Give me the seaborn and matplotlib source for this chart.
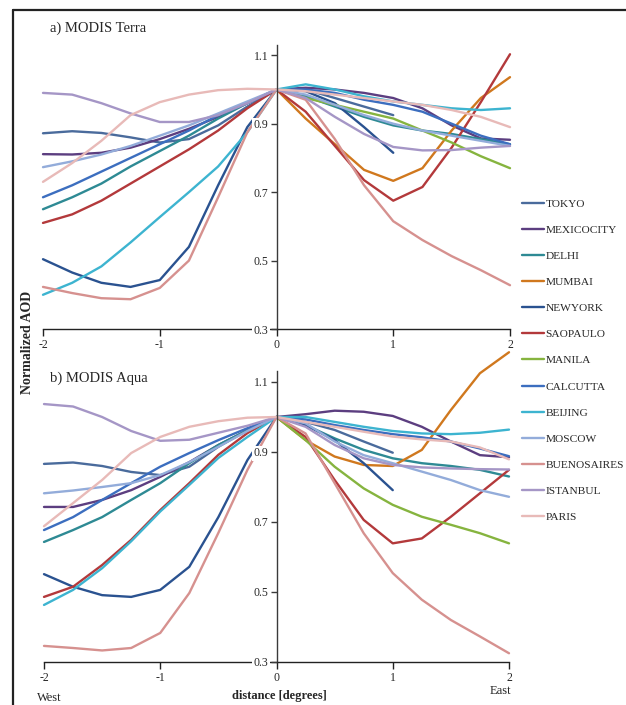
import numpy as np
import pandas as pd
import matplotlib
matplotlib.use("Agg")
import matplotlib.pyplot as plt
from matplotlib.lines import Line2D
import seaborn as sns

nan = np.nan
distance = [-2, -1.75, -1.5, -1.25, -1, -0.75, -0.5, -0.25, 0,
            0.25, 0.5, 0.75, 1, 1.25, 1.5, 1.75, 2]

cities = ["TOKYO", "MEXICOCITY", "DELHI", "MUMBAI", "NEWYORK", "SAOPAULO",
          "MANILA", "CALCUTTA", "BEIJING", "MOSCOW", "BUENOSAIRES",
          "ISTANBUL", "PARIS"]
colors = ["#4A6B9C", "#5C3E80", "#2E8A94", "#D0781E", "#2A5290", "#B3393B",
          "#86B43F", "#3C6EBF", "#3DB4D0", "#93ACDA", "#D6918F",
          "#A596C6", "#E8BAB8"]

# a) MODIS Terra
tokyo_a = [0.872, 0.878, 0.873, 0.86, 0.845, 0.855, 0.895, 0.95, 1.0, 1.0, 0.975, 0.95, 0.925, nan, nan, nan, nan]
mexico_a = [0.811, 0.81, 0.815, 0.83, 0.855, 0.885, 0.92, 0.96, 1.0, 1.005, 1.0, 0.99, 0.975, 0.945, 0.895, 0.857, 0.853]
delhi_a = [0.65, 0.685, 0.725, 0.775, 0.82, 0.865, 0.915, 0.96, 1.0, 0.98, 0.95, 0.92, 0.895, 0.88, 0.87, 0.855, 0.84]
mumbai_a = [nan, nan, nan, nan, nan, nan, nan, nan, 1.0, 0.915, 0.84, 0.765, 0.733, 0.77, 0.88, 0.975, 1.036]
newyork_a = [0.504, 0.465, 0.435, 0.423, 0.443, 0.54, 0.72, 0.89, 1.0, 0.995, 0.96, 0.89, 0.815, nan, nan, nan, nan]
saopaulo_a = [0.61, 0.635, 0.675, 0.725, 0.775, 0.825, 0.88, 0.945, 1.0, 0.935, 0.835, 0.735, 0.675, 0.715, 0.83, 0.963, 1.103]
manila_a = [nan, nan, nan, nan, nan, nan, nan, nan, 1.0, 0.975, 0.955, 0.935, 0.915, 0.88, 0.845, 0.805, 0.77]
calcutta_a = [0.685, 0.72, 0.76, 0.8, 0.84, 0.88, 0.925, 0.96, 1.0, 1.0, 0.99, 0.97, 0.955, 0.935, 0.9, 0.865, 0.84]
beijing_a = [0.40, 0.435, 0.483, 0.553, 0.627, 0.70, 0.775, 0.875, 1.0, 1.015, 1.0, 0.98, 0.965, 0.955, 0.945, 0.94, 0.945]
moscow_a = [0.773, 0.79, 0.81, 0.835, 0.865, 0.895, 0.93, 0.965, 1.0, 0.985, 0.955, 0.925, 0.9, 0.88, 0.865, 0.85, 0.835]
buenos_a = [0.423, 0.405, 0.39, 0.387, 0.42, 0.50, 0.685, 0.875, 1.0, 0.97, 0.855, 0.72, 0.615, 0.56, 0.513, 0.472, 0.428]
istanbul_a = [0.99, 0.985, 0.96, 0.93, 0.905, 0.905, 0.925, 0.96, 1.0, 0.975, 0.92, 0.87, 0.832, 0.822, 0.823, 0.83, 0.835]
paris_a = [0.73, 0.785, 0.85, 0.925, 0.963, 0.985, 0.998, 1.002, 1.0, 0.995, 0.985, 0.975, 0.965, 0.955, 0.94, 0.92, 0.89]

# b) MODIS Aqua
tokyo_b = [0.866, 0.87, 0.86, 0.843, 0.834, 0.858, 0.915, 0.962, 1.0, 0.986, 0.963, 0.93, 0.898, nan, nan, nan, nan]
mexico_b = [0.743, 0.743, 0.763, 0.791, 0.829, 0.871, 0.92, 0.962, 1.0, 1.008, 1.018, 1.015, 1.003, 0.972, 0.93, 0.891, 0.885]
delhi_b = [0.643, 0.677, 0.714, 0.763, 0.811, 0.868, 0.92, 0.962, 1.0, 0.977, 0.939, 0.906, 0.882, 0.868, 0.86, 0.849, 0.83]
mumbai_b = [nan, nan, nan, nan, nan, nan, nan, nan, 1.0, 0.934, 0.887, 0.863, 0.86, 0.906, 1.02, 1.125, 1.185]
newyork_b = [0.551, 0.515, 0.491, 0.486, 0.506, 0.572, 0.714, 0.877, 1.0, 0.977, 0.934, 0.868, 0.791, nan, nan, nan, nan]
saopaulo_b = [0.486, 0.515, 0.577, 0.649, 0.734, 0.811, 0.892, 0.954, 1.0, 0.943, 0.82, 0.706, 0.639, 0.653, 0.715, 0.782, 0.849]
manila_b = [nan, nan, nan, nan, nan, nan, nan, nan, 1.0, 0.934, 0.858, 0.796, 0.749, 0.715, 0.692, 0.668, 0.639]
calcutta_b = [0.677, 0.714, 0.763, 0.811, 0.858, 0.897, 0.934, 0.968, 1.0, 0.993, 0.977, 0.963, 0.951, 0.942, 0.93, 0.91, 0.888]
beijing_b = [0.463, 0.506, 0.568, 0.645, 0.73, 0.806, 0.883, 0.943, 1.0, 1.0, 0.986, 0.972, 0.96, 0.953, 0.951, 0.955, 0.964]
moscow_b = [0.782, 0.79, 0.80, 0.811, 0.834, 0.871, 0.915, 0.96, 1.0, 0.982, 0.93, 0.891, 0.868, 0.844, 0.82, 0.791, 0.772]
buenos_b = [0.346, 0.34, 0.333, 0.34, 0.383, 0.497, 0.669, 0.849, 1.0, 0.953, 0.811, 0.668, 0.554, 0.478, 0.42, 0.373, 0.325]
istanbul_b = [1.037, 1.03, 1.0, 0.96, 0.932, 0.935, 0.955, 0.975, 1.0, 0.972, 0.92, 0.882, 0.863, 0.856, 0.853, 0.851, 0.85]
paris_b = [0.688, 0.754, 0.82, 0.897, 0.943, 0.972, 0.988, 0.998, 1.0, 0.986, 0.972, 0.958, 0.944, 0.936, 0.93, 0.913, 0.879]

terra = [tokyo_a, mexico_a, delhi_a, mumbai_a, newyork_a, saopaulo_a, manila_a,
         calcutta_a, beijing_a, moscow_a, buenos_a, istanbul_a, paris_a]
aqua = [tokyo_b, mexico_b, delhi_b, mumbai_b, newyork_b, saopaulo_b, manila_b,
        calcutta_b, beijing_b, moscow_b, buenos_b, istanbul_b, paris_b]

yticks = [0.3, 0.5, 0.7, 0.9, 1.1]
xticks = [-2, -1, 0, 1, 2]


def long_df(series):
    rows = []
    for city, vals in zip(cities, series):
        for d, v in zip(distance, vals):
            rows.append((city, d, v))
    return pd.DataFrame(rows, columns=["city", "distance", "aod"])


sns.set_style("white")
plt.rcParams["font.family"] = ["Liberation Serif", "DejaVu Serif"]
plt.rcParams["axes.linewidth"] = 1.0

fig = plt.figure(figsize=(6.26, 7.05), dpi=100)
W, H = 626, 705


def px_axes(x0, x1, ytop, ybot):
    return fig.add_axes([x0 / W, 1 - ybot / H, (x1 - x0) / W, (ybot - ytop) / H])


ax_a = px_axes(43, 510, 45, 329)
ax_b = px_axes(44, 509, 371.5, 662)

palette = dict(zip(cities, colors))
for ax, series in [(ax_a, terra), (ax_b, aqua)]:
    df = long_df(series)
    sns.lineplot(data=df, x="distance", y="aod", hue="city", hue_order=cities,
                 palette=palette, estimator=None, sort=True, linewidth=1.7,
                 legend=False, ax=ax)
    for ln in ax.get_lines():
        ln.set_clip_on(False)
        ln.set_solid_capstyle("round")
        ln.set_solid_joinstyle("round")
    ax.set_xlim(-2, 2)
    ax.set_ylim(0.3, 1.13)
    ax.set_xlabel("")
    ax.set_ylabel("")
    for s in ["top", "right"]:
        ax.spines[s].set_visible(False)
    ax.spines["left"].set_position(("data", 0))
    ax.spines["left"].set_color("#3a3a3a")
    ax.spines["bottom"].set_color("#222222")
    ax.set_xticks(xticks)
    ax.set_xticklabels([str(t) for t in xticks])
    ax.set_yticks(yticks)
    ax.set_yticklabels(["%.1f" % t for t in yticks])
    ax.tick_params(axis="x", bottom=True, direction="out", length=5,
                   width=1, labelsize=8.5, pad=2, color="#222222")
    ax.tick_params(axis="y", left=True, direction="out", length=4,
                   width=1, labelsize=8.5, pad=2, color="#3a3a3a")
    for lbl in ax.get_yticklabels():
        lbl.set_bbox(dict(facecolor="white", edgecolor="none", pad=1.0))
    ax.yaxis.set_zorder(3)
    ax.patch.set_alpha(0)

handles = [Line2D([0], [0], color=c, lw=1.7) for c in colors]
fig.legend(handles, cities, loc="upper left",
           bbox_to_anchor=(514 / W, 1 - 191 / H), frameon=False,
           fontsize=8.2, handlelength=1.9, handletextpad=0.15,
           labelspacing=1.415, borderpad=0.2)

fig.text(50 / W, 1 - 28 / H, "a) MODIS Terra", ha="left", va="center", fontsize=10.5)
fig.text(50 / W, 1 - 378 / H, "b) MODIS Aqua", ha="left", va="center", fontsize=10.5)
fig.text(28 / W, 1 - 342 / H, "Normalized AOD", rotation=90, ha="center",
         va="center", fontsize=10, fontweight="bold")
fig.text(279 / W, 1 - 696 / H, "distance [degrees]", ha="center", va="center",
         fontsize=9, fontweight="bold")
fig.text(49 / W, 1 - 698 / H, "West", ha="center", va="center", fontsize=9)
fig.text(500 / W, 1 - 691 / H, "East", ha="center", va="center", fontsize=9)

# outer frame (left and top edges)
fig.add_artist(Line2D([13 / W, 13 / W], [0, 1 - 10 / H], transform=fig.transFigure,
                      color="#222222", lw=1.6))
fig.add_artist(Line2D([13 / W, 1], [1 - 10 / H, 1 - 10 / H], transform=fig.transFigure,
                      color="#222222", lw=1.6))

fig.savefig("out.png", dpi=100)
